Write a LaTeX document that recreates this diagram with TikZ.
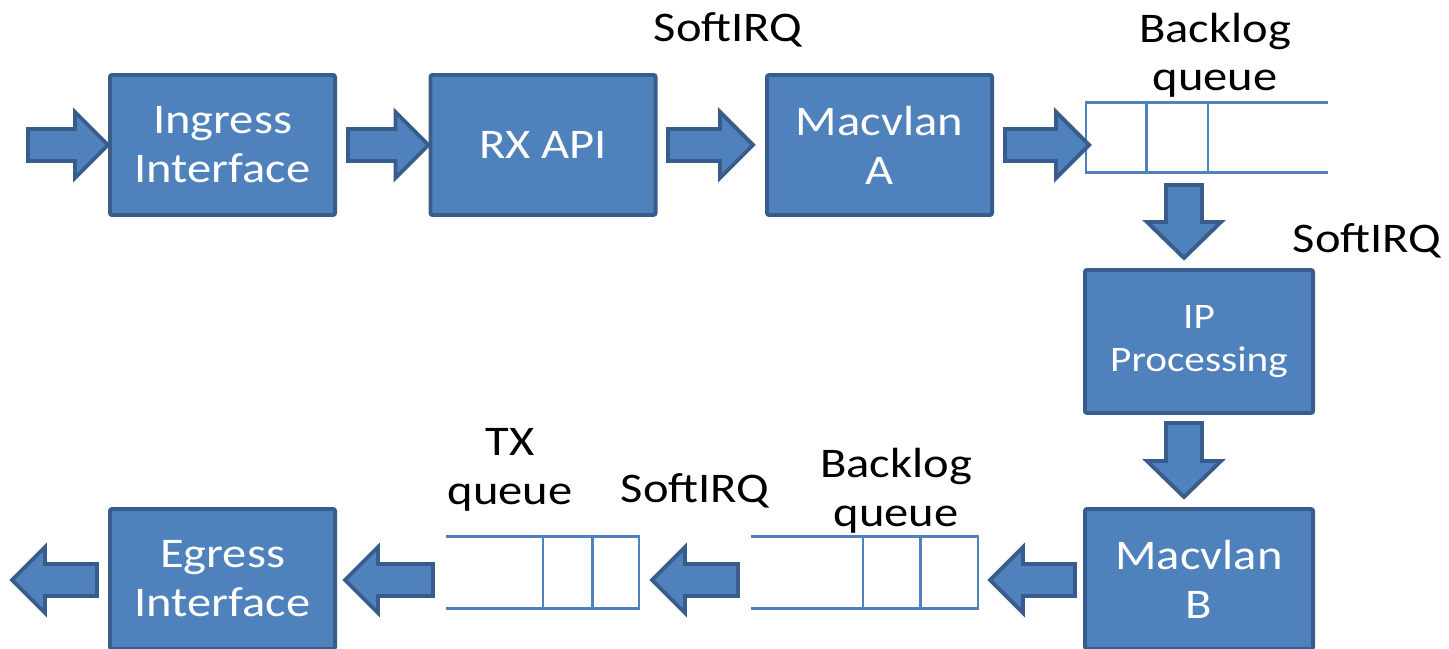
\documentclass[tikz,border=0pt]{standalone}
\usepackage{fontspec}
\setmainfont{Carlito}[FakeStretch=1.15]
\usetikzlibrary{calc}
\definecolor{boxfill}{HTML}{4F81BD}
\definecolor{boxline}{HTML}{385D8A}
\def\sw{0.16cm}\def\hw{0.33cm}\def\hl{0.33cm}
\def\vsw{0.18cm}\def\vhw{0.37cm}\def\vhl{0.36cm}
\newcommand\harrow[2]{%
 \draw[blk] let \p1=(#1), \p2=(#2), \n2={\x2-sign(\x2-\x1)*\hl} in
 (\x1,\y1+\sw) -- (\n2,\y1+\sw) -- (\n2,\y1+\hw) -- (\x2,\y1) -- (\n2,\y1-\hw) -- (\n2,\y1-\sw) -- (\x1,\y1-\sw) -- cycle;}
\newcommand\varrow[2]{%
 \draw[blk] let \p1=(#1), \p2=(#2) in
 (\x1-\vsw,\y1) -- (\x1-\vsw,\y2+\vhl) -- (\x1-\vhw,\y2+\vhl) -- (\x1,\y2) -- (\x1+\vhw,\y2+\vhl) -- (\x1+\vsw,\y2+\vhl) -- (\x1+\vsw,\y1) -- cycle;}
\begin{document}
\begin{tikzpicture}[x=0.01cm,y=-0.01cm,
  box/.style={draw=boxline,fill=boxfill,line width=1.1pt,rounded corners=0.6pt,
    minimum width=2.25cm,minimum height=1.40cm,text=white,align=center,
    font=\fontsize{12}{13.9}\selectfont,inner sep=0pt},
  smallbox/.style={box,minimum width=2.28cm,minimum height=1.43cm,font=\fontsize{10.2}{12}\selectfont},
  blk/.style={draw=boxline,fill=boxfill,line width=1.1pt,line join=miter},
  lbl/.style={text=black,align=center,font=\fontsize{12}{13.8}\selectfont,inner sep=0pt,anchor=base},
  qarea/.style={draw=none,inner sep=0pt},
  qline/.style={draw=boxfill,line width=0.7pt}]
\useasboundingbox (0,0) rectangle (1449,649);
% boxes
\node[box] (ing) at (222.5,145) {Ingress\\Interface};
\node[box] (rx) at (543,145) {RX API};
\node[box] (ma) at (879.5,145) {Macvlan\\A};
\node[smallbox] (ip) at (1199,341.5) {IP\\Processing};
\node[box,minimum width=2.28cm] (mb) at (1199,579) {Macvlan\\B};
\node[box] (eg) at (222.5,579) {Egress\\Interface};
% queues
\node[qarea,minimum width=2.40cm,minimum height=0.69cm] (q1) at (1207,137.5) {};
\draw[qline] (q1.north east) -- (q1.north west) -- (q1.south west) -- (q1.south east);
\draw[qline] ($(q1.north west)!0.25!(q1.north east)$) -- ($(q1.south west)!0.25!(q1.south east)$);
\draw[qline] ($(q1.north west)!0.504!(q1.north east)$) -- ($(q1.south west)!0.504!(q1.south east)$);
\node[qarea,minimum width=2.25cm,minimum height=0.71cm] (q2) at (864.5,572.5) {};
\draw[qline] (q2.north west) -- (q2.north east) -- (q2.south east) -- (q2.south west);
\draw[qline] ($(q2.north west)!0.493!(q2.north east)$) -- ($(q2.south west)!0.493!(q2.south east)$);
\draw[qline] ($(q2.north west)!0.747!(q2.north east)$) -- ($(q2.south west)!0.747!(q2.south east)$);
\node[qarea,minimum width=1.91cm,minimum height=0.71cm] (q3) at (542.5,572.5) {};
\draw[qline] (q3.north west) -- (q3.north east) -- (q3.south east) -- (q3.south west);
\draw[qline] ($(q3.north west)!0.503!(q3.north east)$) -- ($(q3.south west)!0.503!(q3.south east)$);
\draw[qline] ($(q3.north west)!0.759!(q3.north east)$) -- ($(q3.south west)!0.759!(q3.south east)$);
% labels (base = baseline of last line)
\node[lbl] (s1) at (728,42) {SoftIRQ};
\node[lbl] (s2) at (1367,253) {SoftIRQ};
\node[lbl] (s3) at (695,502) {SoftIRQ};
\node[lbl] (bq1) at (1215,91) {Backlog\\queue};
\node[lbl] (bq2) at (896,526) {Backlog\\queue};
\node[lbl] (txq) at (510,504) {TX\\queue};
% arrow end points
\coordinate (a0s) at (28,145);
\coordinate (a1s) at (348,145);
\coordinate (a2s) at (668,145);
\coordinate (a2t) at (753,145);
\coordinate (a3s) at (1005,145);
\coordinate (a3t) at (1089,145);
\coordinate (d1s) at (1184,185);
\coordinate (d1t) at (1184,258);
\coordinate (d2s) at (1184,423);
\coordinate (d2t) at (1184,497);
\coordinate (b1s) at (1075,580);
\coordinate (b1t) at (990,580);
\coordinate (b2s) at (738,580);
\coordinate (b2t) at (652,580);
\coordinate (b3s) at (433,580);
\coordinate (b3t) at (345,580);
\coordinate (b4s) at (97,580);
\coordinate (b4t) at (12,580);
\harrow{a0s}{ing.west}
\harrow{a1s}{rx.west}
\harrow{a2s}{a2t}
\harrow{a3s}{a3t}
\varrow{d1s}{d1t}
\varrow{d2s}{d2t}
\harrow{b1s}{b1t}
\harrow{b2s}{b2t}
\harrow{b3s}{b3t}
\harrow{b4s}{b4t}
\end{tikzpicture}
\end{document}
